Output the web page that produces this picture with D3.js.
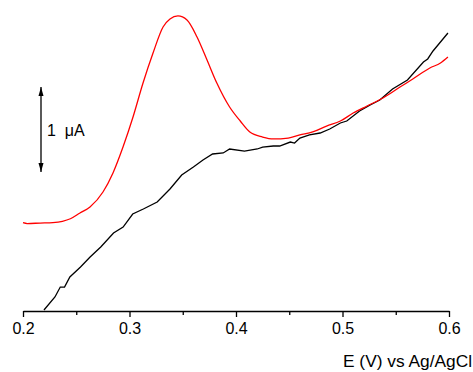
<!DOCTYPE html>
<html>
<head>
<meta charset="utf-8">
<script src="https://cdn.jsdelivr.net/npm/d3@7"></script>
<style>
  body { margin: 0; background: #fff; }
  text { font-family: "Liberation Sans", Arial, sans-serif; }
</style>
</head>
<body>
<div id="chart"></div>
<script>
// potential (V vs Ag/AgCl) and current (uA, offset from axis)
var redE = [0.200,0.204,0.216,0.228,0.237,0.2445,0.2535,0.2629,0.2751,0.2845,0.2939,0.3033,0.3127,0.3221,0.3315,0.338,0.3455,0.354,0.3634,0.3728,0.382,0.394,0.404,0.413,0.425,0.435,0.449,0.460,0.472,0.485,0.498,0.510,0.523,0.538,0.554,0.566,0.582,0.592,0.599];
var redI = [1.039,1.029,1.035,1.040,1.055,1.085,1.153,1.224,1.400,1.624,1.929,2.282,2.682,3.035,3.341,3.435,3.471,3.424,3.224,2.953,2.682,2.400,2.235,2.106,2.047,2.024,2.035,2.071,2.106,2.176,2.235,2.329,2.412,2.506,2.635,2.729,2.859,2.918,2.988];

var blackE = [0.2197,0.230,0.235,0.239,0.244,0.254,0.263,0.273,0.285,0.294,0.303,0.313,0.326,0.338,0.349,0.360,0.369,0.378,0.388,0.394,0.408,0.420,0.425,0.435,0.441,0.451,0.455,0.460,0.469,0.479,0.488,0.498,0.504,0.516,0.526,0.535,0.547,0.561,0.576,0.580,0.585,0.599];
var blackI = [0.012,0.165,0.282,0.282,0.400,0.518,0.635,0.753,0.918,0.988,1.141,1.200,1.282,1.435,1.600,1.694,1.776,1.847,1.859,1.906,1.882,1.906,1.929,1.941,1.941,1.988,1.976,2.035,2.071,2.094,2.141,2.212,2.235,2.353,2.424,2.482,2.612,2.718,2.929,2.965,3.059,3.271];

var majorTicks = [0.2, 0.3, 0.4, 0.5, 0.6];
var minorTicks = [0.25, 0.35, 0.45, 0.55];
var xTitle = "E (V) vs Ag/AgCl";
var scaleLabel = "1 \u03bcA";

var width = 473, height = 372;

var svg = d3.select("#chart")
  .append("svg")
    .attr("width", width)
    .attr("height", height);

var x = d3.scaleLinear().domain([0.2, 0.6]).range([23, 449]);
var y = d3.scaleLinear().domain([0, 1]).range([311, 226]);

var line = d3.line()
  .x(function(d) { return x(d[0]); })
  .y(function(d) { return y(d[1]); });

svg.append("path")
  .datum(d3.zip(blackE, blackI))
  .attr("d", line)
  .attr("fill", "none")
  .attr("stroke", "black")
  .attr("stroke-width", 1.3);

svg.append("path")
  .datum(d3.zip(redE, redI))
  .attr("d", line.curve(d3.curveMonotoneX))
  .attr("fill", "none")
  .attr("stroke", "#ff0000")
  .attr("stroke-width", 1.3);

// x axis
var axis = svg.append("g")
  .attr("transform", "translate(0," + y(0) + ")")
  .call(d3.axisBottom(x).tickValues(majorTicks).tickSize(6).tickSizeOuter(0)
    .tickFormat(d3.format(".1f")));
axis.select(".domain").attr("stroke-width", 1.5);
axis.selectAll(".tick line").attr("stroke-width", 1.3);
axis.selectAll(".tick text")
  .attr("font-size", 16)
  .attr("font-family", "Liberation Sans, Arial, sans-serif")
  .attr("dy", null)
  .attr("y", 23);

svg.append("g")
  .attr("transform", "translate(0," + y(0) + ")")
  .call(d3.axisBottom(x).tickValues(minorTicks).tickSize(4).tickFormat(""))
  .call(function(g) { g.select(".domain").remove(); })
  .selectAll(".tick line").attr("stroke-width", 1.3);

svg.append("text")
  .attr("x", 472)
  .attr("y", 367)
  .attr("text-anchor", "end")
  .attr("font-size", 16)
  .attr("textLength", 129)
  .attr("lengthAdjust", "spacingAndGlyphs")
  .text(xTitle);

// 1 uA scale bar
var barX = 41;
var barTop = y(2.635), barBot = y(1.635);
svg.append("line")
  .attr("x1", barX).attr("x2", barX)
  .attr("y1", barTop).attr("y2", barBot)
  .attr("stroke", "black")
  .attr("stroke-width", 1.3);

svg.append("path")
  .attr("d", "M" + barX + "," + barTop + " L" + (barX - 2.5) + "," + (barTop + 9) + " L" + (barX + 2.5) + "," + (barTop + 9) + " Z")
  .attr("fill", "black");
svg.append("path")
  .attr("d", "M" + barX + "," + barBot + " L" + (barX - 2.5) + "," + (barBot - 9) + " L" + (barX + 2.5) + "," + (barBot - 9) + " Z")
  .attr("fill", "black");

svg.append("text")
  .attr("x", 47)
  .attr("y", (barTop + barBot) / 2 + 6)
  .attr("font-size", 16)
  .attr("xml:space", "preserve")
  .text(scaleLabel.replace(" ", "  "));
</script>
</body>
</html>
